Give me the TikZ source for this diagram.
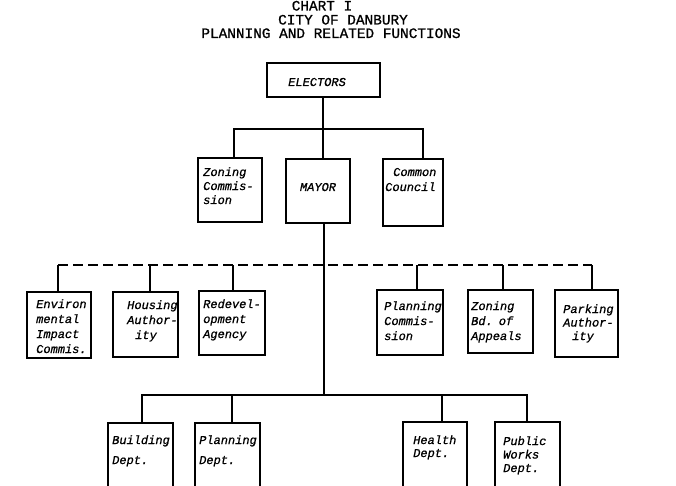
\documentclass[tikz,border=0pt]{standalone}
\usepackage{fontspec}
\setmonofont[FakeBold=0.9]{Liberation Mono}
\usetikzlibrary{fit}
\begin{document}
\begin{tikzpicture}[x=1pt,y=-1pt,
  box/.style={draw, line width=1.8pt, inner sep=0pt, fit={#1}},
  conn/.style={line width=1.5pt},
  dashline/.style={line width=1.5pt, dash pattern=on 10pt off 5pt},
  title/.style={font=\ttfamily\fontsize{14.4}{14}\selectfont, inner sep=0pt, anchor=base},
  lbl/.style={font=\ttfamily\itshape\fontsize{12}{15}\selectfont, inner sep=0pt, anchor=base},
  txt/.style={font=\ttfamily\itshape\fontsize{12}{#1}\selectfont, inner sep=0pt,
              text width=72pt, align=left, anchor=base west},
  txt/.default=15]
\useasboundingbox (0,0) rectangle (676,486);
\clip (0,0) rectangle (676,486);
\fill[white] (0,0) rectangle (676,486);

% title
\node[title] (t1) at (322,10.5) {CHART I};
\node[title] (t2) at (343,24.5) {CITY OF DANBURY};
\node[title] (t3) at (331,38) {PLANNING AND RELATED FUNCTIONS};

% top level
\node[box={(267,63) (380,97)}] (el) {};
\node[lbl] (elT) at (317,86) {ELECTORS};

\node[box={(198,158) (262,222)}] (zon) {};
\node[txt=14] (zonT) at (203,176) {Zoning\\Commis-\\sion};
\node[box={(286,159) (350,223)}] (may) {};
\node[lbl] (mayT) at (318,191) {MAYOR};
\node[box={(383,159) (443,226)}] (cc) {};
\node[txt] (ccT) at (385,176) {\hspace*{8pt}Common\\Council};

% third level
\node[box={(27,292) (91,358)}] (env) {};
\node[txt] (envT) at (36,308) {Environ\\mental\\Impact\\Commis.};
\node[box={(113,292) (178,357)}] (hou) {};
\node[txt] (houT) at (127,309) {Housing\\Author-\\\hspace*{8pt}ity};
\node[box={(199,291) (265,355)}] (red) {};
\node[txt] (redT) at (203,308) {Redevel-\\opment\\Agency};

\node[box={(377,290) (443,355)}] (pc) {};
\node[txt] (pcT) at (384,310) {Planning\\Commis-\\sion};
\node[box={(468,290) (533,353)}] (zba) {};
\node[txt] (zbaT) at (471,310) {Zoning\\Bd. of\\Appeals};
\node[box={(555,290) (618,357)}] (par) {};
\node[txt=13.5] (parT) at (563,313) {Parking\\Author-\\\hspace*{9pt}ity};

% departments
\node[box={(108,423) (173,500)}] (bld) {};
\node[txt=20] (bldT) at (112,444) {Building\\Dept.};
\node[box={(195,423) (260,500)}] (pld) {};
\node[txt=20] (pldT) at (199,444) {Planning\\Dept.};
\node[box={(403,422) (467,500)}] (hd) {};
\node[txt=13] (hdT) at (413,444) {Health\\Dept.};
\node[box={(495,422) (560,500)}] (pwd) {};
\node[txt=13.5] (pwdT) at (503,445) {Public\\Works\\Dept.};

% coordinates
\coordinate (bus1) at (323,129);
\coordinate (bus2l) at (58,265);
\coordinate (bus2r) at (592,265);
\coordinate (bus3) at (324,395);

% connectors
\draw[conn] ([xshift=-0.5pt]el.south) -- ([xshift=-0.5pt]el.south |- may.north);
\draw[conn] ([xshift=4pt]zon.north) |- (bus1) -| ([xshift=10pt]cc.north);
\draw[conn] ([xshift=6pt]may.south) -- (bus3);
\draw[dashline] (bus2l) -- (bus2r);
\draw[conn] (env.north -| bus2l) -- (bus2l);
\draw[conn] ([xshift=4.5pt]hou.north) -- ([xshift=4.5pt]hou.north |- bus2l);
\draw[conn] ([xshift=1pt]red.north) -- ([xshift=1pt]red.north |- bus2l);
\draw[conn] ([xshift=7pt]pc.north) -- ([xshift=7pt]pc.north |- bus2l);
\draw[conn] ([xshift=2.5pt]zba.north) -- ([xshift=2.5pt]zba.north |- bus2l);
\draw[conn] (par.north -| bus2r) -- (bus2r);
\draw[conn] ([xshift=1.5pt]bld.north) |- (bus3) -| ([xshift=-0.5pt]pwd.north);
\draw[conn] ([xshift=4.5pt]pld.north) -- ([xshift=4.5pt]pld.north |- bus3);
\draw[conn] ([xshift=7pt]hd.north) -- ([xshift=7pt]hd.north |- bus3);
\end{tikzpicture}
\end{document}
